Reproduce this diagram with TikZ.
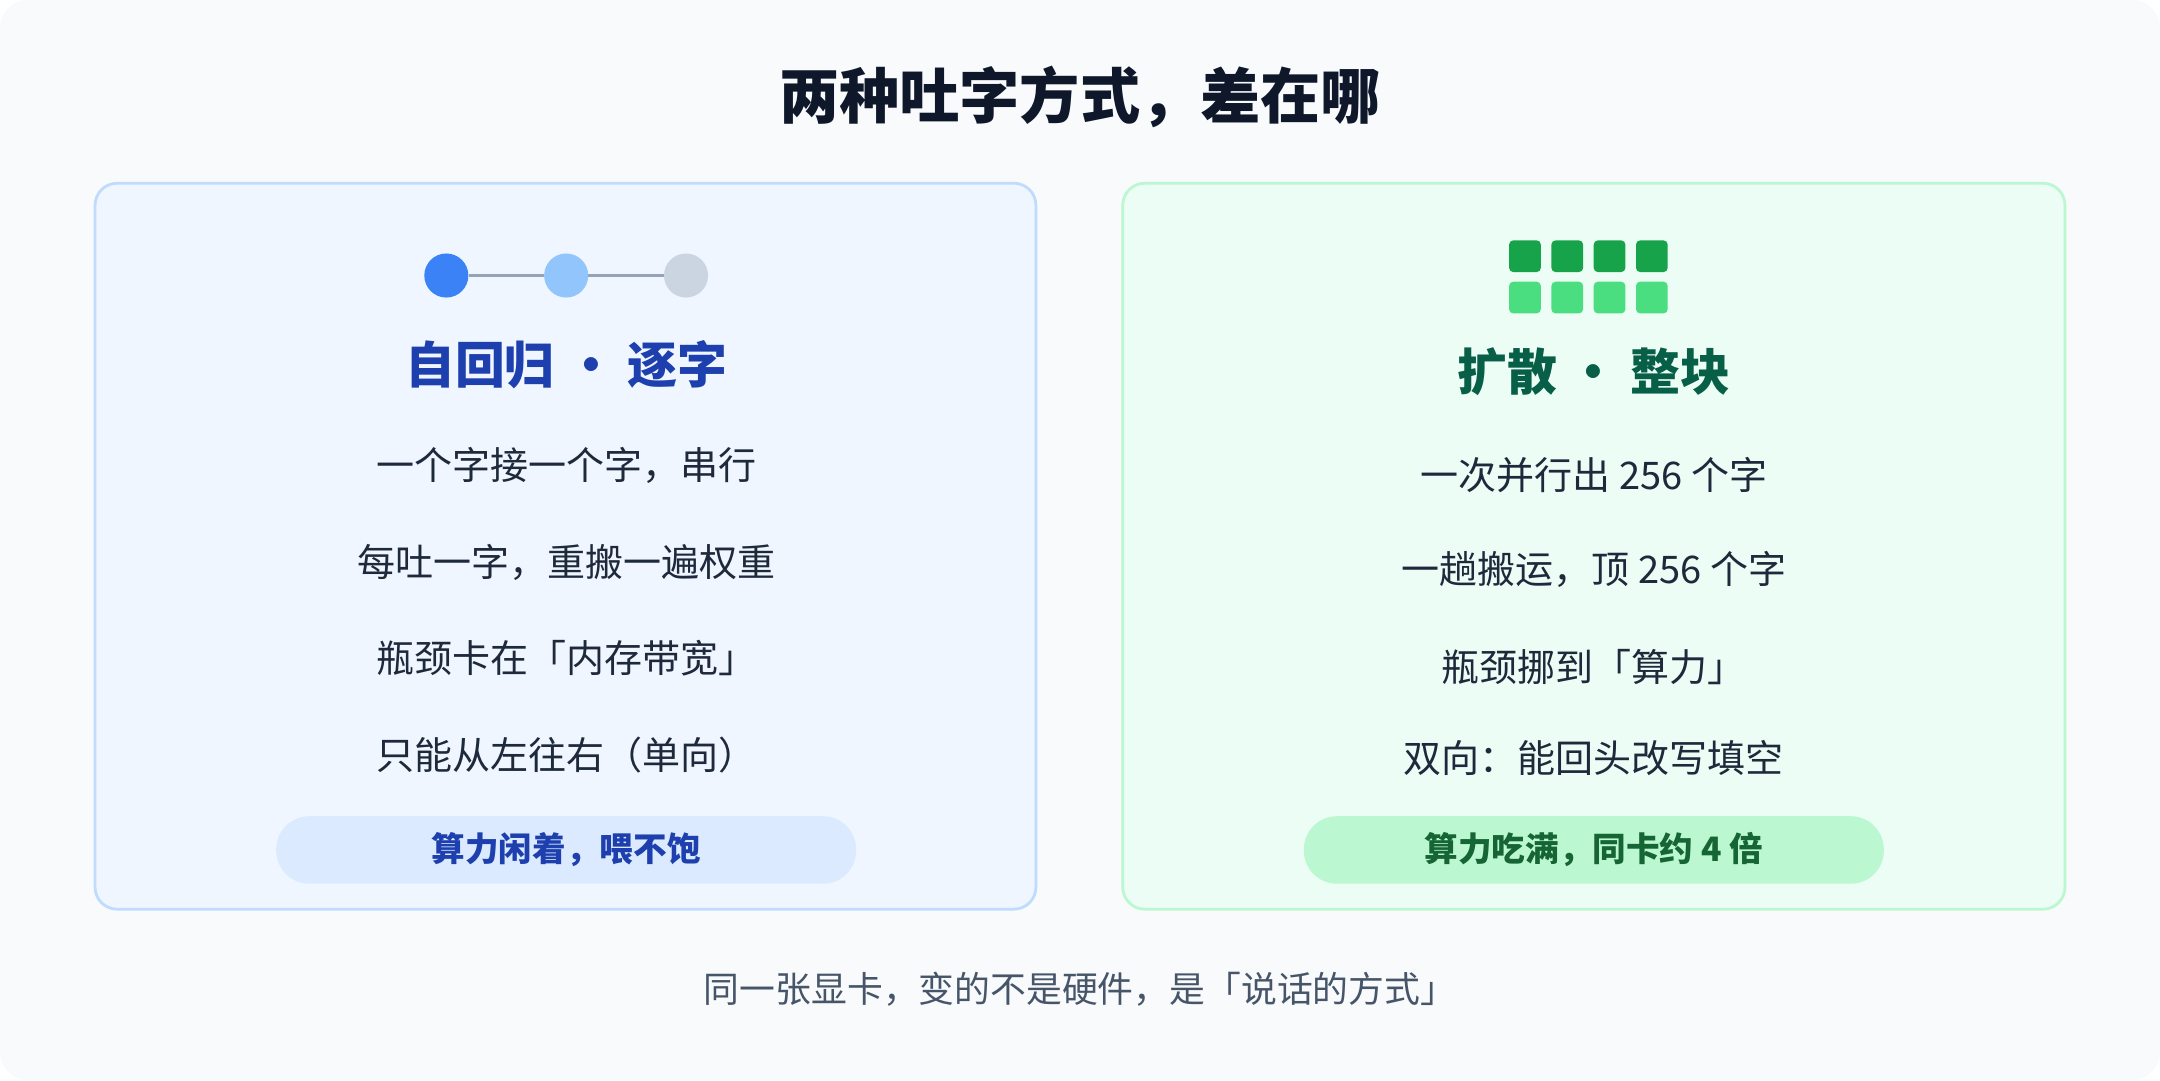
\documentclass[tikz,border=0pt]{standalone}
\usepackage{fontspec}
\setmainfont{Noto Sans CJK SC}
\usetikzlibrary{positioning}
\definecolor{bgc}{HTML}{F8FAFC}
\definecolor{ink}{HTML}{0F172A}
\definecolor{body}{HTML}{1E293B}
\definecolor{muted}{HTML}{475569}
\definecolor{blfill}{HTML}{EFF6FF}
\definecolor{blline}{HTML}{BFDBFE}
\definecolor{blhead}{HTML}{1E40AF}
\definecolor{blpill}{HTML}{DBEAFE}
\definecolor{grfill}{HTML}{ECFDF5}
\definecolor{grline}{HTML}{BBF7D0}
\definecolor{grhead}{HTML}{065F46}
\definecolor{grpill}{HTML}{BBF7D0}
\definecolor{grtxt}{HTML}{166534}
\definecolor{dotA}{HTML}{3B82F6}
\definecolor{dotB}{HTML}{93C5FD}
\definecolor{dotC}{HTML}{CBD5E1}
\definecolor{link}{HTML}{94A3B8}
\definecolor{sqA}{HTML}{16A34A}
\definecolor{sqB}{HTML}{4ADE80}
\tikzset{
  card/.style={rounded corners=16pt, line width=2pt},
  line/.style={font=\fontsize{27.6}{32}\selectfont, text=body},
  head/.style={font=\fontsize{36.2}{42}\selectfont\bfseries},
  pill/.style={rounded corners=24pt, minimum width=421pt, minimum height=49pt, font=\fontsize{24.4}{28}\selectfont\bfseries},
  dot/.style={circle, minimum size=32pt, inner sep=0pt},
  sq/.style={rounded corners=3pt, minimum size=23pt, inner sep=0pt}
}
\begin{document}
\begin{tikzpicture}[x=1pt,y=-1pt]
  \useasboundingbox (0,0) rectangle (1568,784);
  \fill[bgc, rounded corners=20pt] (0,0) rectangle (1568,784);
  \node[font=\fontsize{43.7}{50}\selectfont\bfseries, text=ink] (title) at (784,70) {两种吐字方式，差在哪};

  % left card
  \draw[card, fill=blfill, draw=blline] (69,133) rectangle (752,660);
  \node[dot, fill=dotA] (d1) at (324,200) {};
  \node[dot, fill=dotB] (d2) at (411,200) {};
  \node[dot, fill=dotC] (d3) at (498,200) {};
  \draw[link, line width=2.5pt] (d1) -- (d2);
  \draw[link, line width=2.5pt] (d2) -- (d3);
  \node[head, text=blhead] (lhead) at (411,265) {自回归 · 逐字};
  \node[line] (l1) at (411,338) {一个字接一个字，串行};
  \node[line] (l2) at (411,408) {每吐一字，重搬一遍权重};
  \node[line] (l3) at (411,478) {瓶颈卡在「内存带宽」};
  \node[line] (l4) at (411,548) {只能从左往右（单向）};
  \node[pill, fill=blpill, text=blhead] (lpill) at (411,617) {算力闲着，喂不饱};

  % right card
  \draw[card, fill=grfill, draw=grline] (815,133) rectangle (1499,660);
  \foreach \i in {0,...,3} {
    \node[sq, fill=sqA] (top\i) at (1107+30.7*\i,186) {};
    \node[sq, fill=sqB] (bot\i) at (1107+30.7*\i,216) {};
  }
  \node[head, text=grhead] (rhead) at (1157,270) {扩散 · 整块};
  \node[line] (r1) at (1157,345) {一次并行出 256 个字};
  \node[line] (r2) at (1157,413) {一趟搬运，顶 256 个字};
  \node[line] (r3) at (1157,484) {瓶颈挪到「算力」};
  \node[line] (r4) at (1157,550) {双向：能回头改写填空};
  \node[pill, fill=grpill, text=grtxt] (rpill) at (1157,617) {算力吃满，同卡约 4 倍};

  \node[font=\fontsize{26}{30}\selectfont, text=muted] (foot) at (784,718) {同一张显卡，变的不是硬件，是「说话的方式」};
\end{tikzpicture}
\end{document}
